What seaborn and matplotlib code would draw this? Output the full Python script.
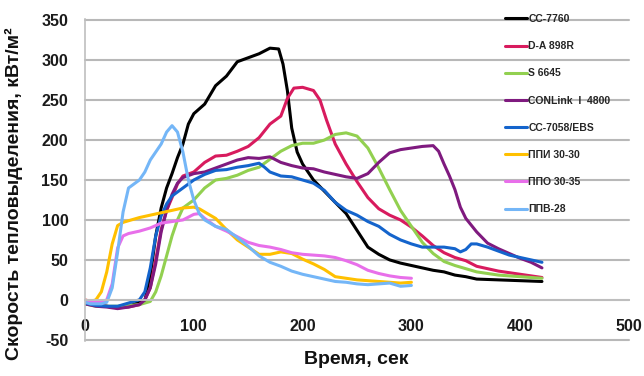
import numpy as np
import pandas as pd
import matplotlib
matplotlib.use("Agg")
import matplotlib.pyplot as plt
import seaborn as sns

# ---- data ----
labels = ["СС-7760", "D-A 898R", "S 6645", "CONLink  I  4800",
          "СС-7058/EBS", "ППИ 30-30", "ППО 30-35", "ППВ-28"]
colors = ["#000000", "#D81B5E", "#92D050", "#7F1A7F",
          "#1464CC", "#FFC000", "#E86FEA", "#74B6F7"]

t_cc7760 = [0,10,20,30,40,50,55,60,65,70,75,80,85,90,95,100,110,120,130,140,150,160,170,178,182,186,190,195,200,210,220,230,240,250,260,270,280,290,300,310,320,330,340,350,360,380,400,420]
v_cc7760 = [-2,-5,-8,-10,-8,-3,-1,30,80,115,140,158,178,195,220,233,245,268,280,298,303,308,315,314,295,262,215,185,170,150,136,122,108,87,66,57,50,46,43,40,37,35,31,29,26,25,24,23]

t_da898 = [0,10,20,30,40,50,55,60,65,70,75,80,85,90,100,110,120,130,140,150,160,170,180,186,192,200,210,216,222,230,240,250,260,270,280,290,300,310,320,330,340,350,360,380,400,420]
v_da898 = [-5,-7,-8,-10,-9,-6,0,15,50,88,112,128,145,155,160,172,180,181,186,192,203,220,230,252,265,266,262,250,225,195,170,148,128,114,106,100,91,80,68,59,53,49,42,36,32,28]

t_s6645 = [0,10,20,30,40,50,55,60,65,70,75,80,85,90,95,100,110,120,130,140,150,160,170,180,190,200,210,220,230,240,250,260,270,280,290,300,310,320,330,340,350,360,380,400,420]
v_s6645 = [-5,-8,-8,-8,-7,-6,-4,-2,10,30,55,80,100,115,120,125,140,150,152,156,162,166,176,186,193,196,196,200,207,209,205,190,165,138,112,92,72,58,48,43,39,35,31,29,27]

t_conlink = [0,10,20,30,40,50,55,60,65,70,75,80,85,90,100,110,120,130,140,150,160,170,180,190,200,210,220,230,240,250,260,270,280,290,300,310,320,325,330,335,340,345,350,360,370,380,390,400,410,420]
v_conlink = [-5,-8,-9,-11,-9,-6,0,15,45,85,112,132,146,153,158,160,165,170,175,178,177,179,172,168,165,164,160,157,154,152,158,172,184,188,190,192,193,186,170,155,138,116,102,85,71,64,58,52,47,40]

t_cc7058 = [0,10,20,30,40,45,50,55,60,65,70,75,80,90,100,110,120,130,140,150,160,165,170,180,190,200,210,220,230,240,250,260,270,280,290,300,310,320,330,340,345,350,355,360,370,380,390,400,410,420]
v_cc7058 = [-4,-7,-8,-8,-4,-2,0,10,40,80,105,120,130,140,150,157,162,163,166,168,171,166,160,155,154,150,146,137,122,112,106,98,92,82,75,70,66,66,66,64,60,63,70,70,66,61,56,53,50,47]

t_ppi = [0,5,10,15,20,25,30,35,40,50,60,70,80,90,100,105,110,120,130,140,150,160,170,180,190,200,210,220,230,240,250,260,270,280,290,300]
v_ppi = [0,-2,0,10,35,70,93,97,99,103,106,109,112,115,116,114,110,102,88,75,66,57,57,60,58,51,45,38,29,27,25,24,23,22,21,22]

t_ppo = [0,5,10,15,20,25,30,35,40,50,60,70,80,90,100,105,110,120,130,140,150,160,170,180,190,200,210,220,230,240,250,260,270,280,290,300]
v_ppo = [0,-2,-3,-3,0,20,65,80,83,86,90,96,98,100,107,108,102,92,86,79,72,68,66,63,59,57,56,55,53,49,44,37,33,30,28,27]

t_ppv = [0,5,10,15,20,25,30,35,40,45,50,55,60,65,70,75,80,85,90,95,100,105,110,120,130,140,150,160,170,180,190,200,210,220,230,240,250,260,270,280,290,300]
v_ppv = [-3,-5,-5,-5,-3,15,60,110,140,145,150,160,175,185,195,210,218,210,185,150,125,108,100,92,88,78,67,55,47,42,36,32,29,26,23,22,20,19,20,21,17,18]

y_ticks = [-50, 0, 50, 100, 150, 200, 250, 300, 350]
x_ticks = [0, 100, 200, 300, 400, 500]
x_label = "Время, сек"
y_label = "Скорость тепловыделения, кВт/м²"

series_t = [t_cc7760, t_da898, t_s6645, t_conlink, t_cc7058, t_ppi, t_ppo, t_ppv]
series_v = [v_cc7760, v_da898, v_s6645, v_conlink, v_cc7058, v_ppi, v_ppo, v_ppv]

frames = []
for lab, tt, vv in zip(labels, series_t, series_v):
    frames.append(pd.DataFrame({"t": tt, "v": vv, "series": lab}))
df = pd.concat(frames, ignore_index=True)

# ---- plot ----
sns.set_theme(style="white")
plt.rcParams["font.family"] = ["Liberation Sans", "DejaVu Sans"]
plt.rcParams["axes.unicode_minus"] = False

fig = plt.figure(figsize=(6.44, 3.76), dpi=100)
ax = fig.add_axes([85/644, 1-341/376, (629-85)/644, (341-19)/376])

for yv in y_ticks:
    ax.axhline(yv, color="#B8B8B8", linewidth=1.5, zorder=0, clip_on=False)

sns.lineplot(data=df, x="t", y="v", hue="series", hue_order=labels,
             palette=dict(zip(labels, colors)), estimator=None, sort=False,
             linewidth=2.2, ax=ax)

ax.set_xlim(0, 500)
ax.set_ylim(-51.5, 351.5)
ax.set_yticks(y_ticks)
ax.set_xticks(x_ticks)
ax.grid(False)
for s in ["top", "right"]:
    ax.spines[s].set_visible(False)
ax.spines["left"].set_color("#BFBFBF")
ax.spines["left"].set_linewidth(1.2)
ax.spines["bottom"].set_position(("data", 0))
ax.spines["bottom"].set_color("#BFBFBF")
ax.spines["bottom"].set_linewidth(1.4)
ax.tick_params(axis="x", direction="out", length=4, width=1, color="#BFBFBF",
               pad=10, labelsize=11.5)
ax.tick_params(axis="y", length=0, pad=12, labelsize=11.5)
for lbl in ax.get_xticklabels() + ax.get_yticklabels():
    lbl.set_fontweight("bold")
    lbl.set_color("#1a1a1a")

ax.set_xlabel("")
ax.set_ylabel("")
fig.text(356/644, 1-360/376, x_label, ha="center", va="center",
         fontsize=14, fontweight="bold", color="#111111")
fig.text(14/644, 1-194/376, y_label, ha="center", va="center", rotation=90,
         fontsize=14, fontweight="bold", color="#111111")

leg = ax.legend(loc="upper left", bbox_to_anchor=(505/644, 1-14/376),
                bbox_transform=fig.transFigure, frameon=False,
                fontsize=7.5, handlelength=2.1, handletextpad=0.15,
                labelspacing=1.65, borderpad=0, borderaxespad=0)
for line in leg.get_lines():
    line.set_linewidth(2.2)
for txt in leg.get_texts():
    txt.set_fontweight("bold")

fig.savefig("out.png", dpi=100)
